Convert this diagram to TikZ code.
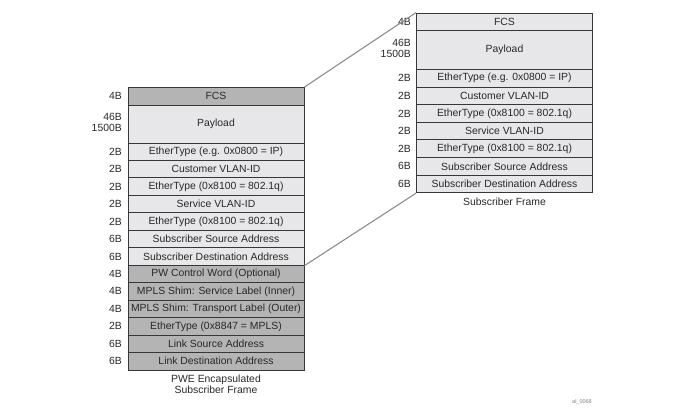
\documentclass[tikz,border=0pt]{standalone}
\usepackage{fontspec}
\setmainfont{Liberation Sans}
\begin{document}
\begin{tikzpicture}[x=1pt,y=-1pt,
  every node/.style={font=\fontsize{10.4}{11}\selectfont, text=txt},
  cell/.style={draw=bord, line width=0.9pt, minimum width=176pt, inner sep=0pt, fill=lightc},
  darkcell/.style={cell, fill=darkc},
  sz/.style={anchor=east, inner sep=0pt, align=right},
  link/.style={draw=linkc, line width=1.1pt}]
\definecolor{lightc}{RGB}{231,231,233}
\definecolor{darkc}{RGB}{180,180,180}
\definecolor{bord}{RGB}{55,55,55}
\definecolor{txt}{RGB}{40,40,40}
\definecolor{linkc}{RGB}{140,140,140}
\useasboundingbox (0,0) rectangle (675,410);

% Left stack
\node[darkcell, minimum height=17.5pt] (lfcs) at (216,96.25) {FCS};
\node[cell, minimum height=38pt] (lpay) at (216,124) {Payload};
\node[cell, minimum height=17.46pt] (l0) at (216,151.73) {EtherType (e.g. 0x0800 = IP)};
\node[cell, minimum height=17.46pt] (l1) at (216,169.19) {Customer VLAN-ID};
\node[cell, minimum height=17.46pt] (l2) at (216,186.65) {EtherType (0x8100 = 802.1q)};
\node[cell, minimum height=17.46pt] (l3) at (216,204.11) {Service VLAN-ID};
\node[cell, minimum height=17.46pt] (l4) at (216,221.57) {EtherType (0x8100 = 802.1q)};
\node[cell, minimum height=17.46pt] (l5) at (216,239.03) {Subscriber Source Address};
\node[cell, minimum height=17.46pt] (l6) at (216,256.49) {Subscriber Destination Address};
\node[darkcell, minimum height=17.46pt] (l7) at (216,273.95) {PW Control Word (Optional)};
\node[darkcell, minimum height=17.46pt] (l8) at (216,291.41) {MPLS Shim: Service Label (Inner)};
\node[darkcell, minimum height=17.46pt] (l9) at (216,308.87) {MPLS Shim: Transport Label (Outer)};
\node[darkcell, minimum height=17.46pt] (l10) at (216,326.33) {EtherType (0x8847 = MPLS)};
\node[darkcell, minimum height=17.46pt] (l11) at (216,343.79) {Link Source Address};
\node[darkcell, minimum height=17.46pt] (l12) at (216,361.25) {Link Destination Address};

% Left sizes
\node[sz] (sfcs) at (122,96.25) {4B};
\node[sz] (spay) at (122,122) {46B\\1500B};
\node[sz] (s0) at (122,151.73) {2B};
\node[sz] (s1) at (122,169.19) {2B};
\node[sz] (s2) at (122,186.65) {2B};
\node[sz] (s3) at (122,204.11) {2B};
\node[sz] (s4) at (122,221.57) {2B};
\node[sz] (s5) at (122,239.03) {6B};
\node[sz] (s6) at (122,256.49) {6B};
\node[sz] (s7) at (122,273.95) {4B};
\node[sz] (s8) at (122,291.41) {4B};
\node[sz] (s9) at (122,308.87) {4B};
\node[sz] (s10) at (122,326.33) {2B};
\node[sz] (s11) at (122,343.79) {6B};
\node[sz] (s12) at (122,361.25) {6B};

\node[align=center, inner sep=0pt] (lcap) at (216,384) {PWE Encapsulated\\Subscriber Frame};

% Right stack
\node[cell, minimum height=17.5pt] (rfcs) at (504.5,21.75) {FCS};
\node[cell, minimum height=39pt] (rpay) at (504.5,50) {Payload};
\node[cell, minimum height=17.6pt] (r0) at (504.5,78.3) {EtherType (e.g. 0x0800 = IP)};
\node[cell, minimum height=17.6pt] (r1) at (504.5,95.9) {Customer VLAN-ID};
\node[cell, minimum height=17.6pt] (r2) at (504.5,113.5) {EtherType (0x8100 = 802.1q)};
\node[cell, minimum height=17.6pt] (r3) at (504.5,131.1) {Service VLAN-ID};
\node[cell, minimum height=17.6pt] (r4) at (504.5,148.7) {EtherType (0x8100 = 802.1q)};
\node[cell, minimum height=17.6pt] (r5) at (504.5,166.3) {Subscriber Source Address};
\node[cell, minimum height=17.6pt] (r6) at (504.5,183.9) {Subscriber Destination Address};

% Right sizes
\node[sz] (tfcs) at (411,21.75) {4B};
\node[sz] (tpay) at (411,48) {46B\\1500B};
\node[sz] (t0) at (411,78.3) {2B};
\node[sz] (t1) at (411,95.9) {2B};
\node[sz] (t2) at (411,113.5) {2B};
\node[sz] (t3) at (411,131.1) {2B};
\node[sz] (t4) at (411,148.7) {2B};
\node[sz] (t5) at (411,166.3) {6B};
\node[sz] (t6) at (411,183.9) {6B};

\node[inner sep=0pt] (rcap) at (504.5,202) {Subscriber Frame};

% Connectors
\draw[link] (lfcs.north east) -- (rfcs.north west);
\draw[link] (l6.south east) -- (r6.south west);

\node[font=\fontsize{5.5}{6}\selectfont, text=gray, inner sep=0pt] (id) at (582,402) {al\_0068};
\end{tikzpicture}
\end{document}
